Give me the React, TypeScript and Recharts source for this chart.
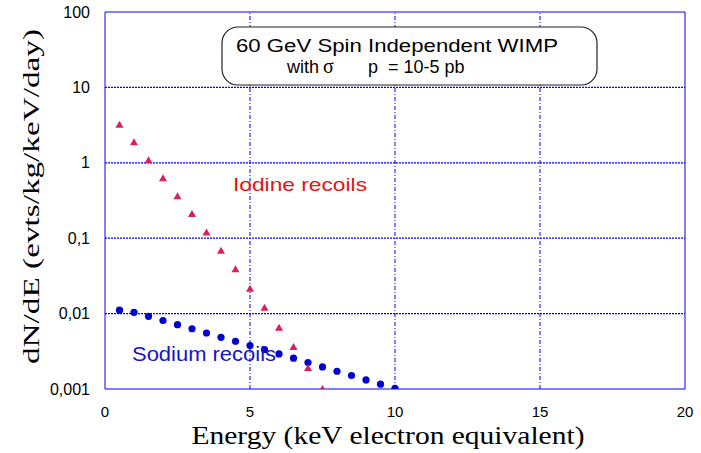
import React from "react";
import {
  ScatterChart,
  Scatter,
  XAxis,
  YAxis,
  ReferenceLine,
  Label,
} from "recharts";

// energies (keV ee) where the rates were sampled
const energies = [0.5, 1, 1.5, 2, 2.5, 3, 3.5, 4, 4.5, 5, 5.5, 6, 6.5, 7, 7.5, 8, 8.5, 9, 9.5, 10];

// dN/dE
const iodineRates = [3.2, 1.87, 1.08, 0.625, 0.36, 0.21, 0.119, 0.068, 0.0386, 0.0214, 0.012, 0.0065, 0.0036, 0.0019, 0.001];
const sodiumRates = [0.0111, 0.0104, 0.0092, 0.0081, 0.00714, 0.0063, 0.00553, 0.00485, 0.0043, 0.00377, 0.00334, 0.00292, 0.00256, 0.00224, 0.00196, 0.00172, 0.00151, 0.00132, 0.00116, 0.00102];

const xTicks = [0, 5, 10, 15, 20];
const xMinorTicks = [1, 2, 3, 4, 5, 6, 7, 8, 9, 10, 11, 12, 13, 14, 15, 16, 17, 18, 19];
const yTicks = [0.001, 0.01, 0.1, 1, 10, 100];
const yTickLabels = ["0,001", "0,01", "0,1", "1", "10", "100"];
const decades = [0.001, 0.01, 0.1, 1, 10];
const minorMultipliers = [1, 2, 3, 4, 5, 6, 7, 8, 9];
const yMinorTicks = decades.flatMap((d) => minorMultipliers.map((m) => +(d * m).toPrecision(3)));

const hGrid = [0.01, 0.1, 1, 10];
const vGrid = [5, 10, 15];

const iodineData = iodineRates.map((rate, i) => ({ energy: energies[i], rate }));
const sodiumData = sodiumRates.map((rate, i) => ({ energy: energies[i], rate }));

const BLUE = "#0000ff";
const DOT_BLUE = "#0000d2";
const CRIMSON = "#dc1f5a";
const SANS = "'Liberation Sans', Arial, sans-serif";
const SERIF = "'Liberation Serif', 'Times New Roman', serif";

const Triangle = (props: any) => {
  const { cx, cy } = props;
  if (cx == null || cy == null) return null;
  return <polygon points={`${cx},${cy - 4} ${cx - 4},${cy + 3} ${cx + 4},${cy + 3}`} fill={CRIMSON} />;
};

const Dot = (props: any) => {
  const { cx, cy } = props;
  if (cx == null || cy == null) return null;
  return <circle cx={cx} cy={cy} r={3.6} fill={DOT_BLUE} />;
};

const YTitle = (props: any) => {
  const vb = props.viewBox || { x: 0, y: 12, width: 105, height: 377 };
  const cx = vb.x + 31;
  const cy = vb.y + vb.height / 2 - 4;
  return (
    <text
      x={cx}
      y={cy}
      transform={`rotate(-90, ${cx}, ${cy})`}
      textAnchor="middle"
      dominantBaseline="central"
      fontFamily={SERIF}
      fontSize={24}
      fill="#000"
      textLength={335}
      lengthAdjust="spacingAndGlyphs"
    >
      dN/dE (evts/kg/keV/day)
    </text>
  );
};

const XTitle = (props: any) => {
  const vb = props.viewBox || { x: 105, y: 389, width: 580, height: 64 };
  const cx = vb.x + vb.width / 2 - 7;
  return (
    <text
      x={cx}
      y={vb.y + 55}
      textAnchor="middle"
      fontFamily={SERIF}
      fontSize={26}
      fill="#000"
      textLength={393}
      lengthAdjust="spacingAndGlyphs"
    >
      Energy (keV electron equivalent)
    </text>
  );
};

export default function App() {
  return (
    <div style={{ position: "absolute", left: 0, top: 0, width: 701, height: 453, background: "#fff" }}>
      <ScatterChart width={701} height={453} margin={{ top: 12, right: 16, bottom: 0, left: 0 }}>
        <XAxis
          xAxisId="main"
          type="number"
          dataKey="energy"
          domain={[0, 20]}
          ticks={xTicks}
          allowDataOverflow
          height={64}
          stroke={BLUE}
          tickLine={false}
          tickSize={0}
          tickMargin={17}
          tick={{ fill: "#000", fontFamily: SANS, fontSize: 15 }}
        >
          <Label content={<XTitle />} />
        </XAxis>
        <XAxis
          xAxisId="bottomMinor"
          type="number"
          domain={[0, 20]}
          ticks={xMinorTicks}
          allowDataOverflow
          mirror
          axisLine={false}
          tickSize={4}
          tickLine={{ stroke: BLUE }}
          tick={false}
        />
        <XAxis
          xAxisId="top"
          orientation="top"
          type="number"
          domain={[0, 20]}
          ticks={xMinorTicks}
          allowDataOverflow
          mirror
          stroke={BLUE}
          tickSize={4}
          tickLine={{ stroke: BLUE }}
          tick={false}
        />
        <YAxis
          yAxisId="main"
          type="number"
          dataKey="rate"
          scale="log"
          domain={[0.001, 100]}
          ticks={yTicks}
          allowDataOverflow
          width={105}
          stroke={BLUE}
          tickLine={false}
          tickSize={0}
          tickMargin={15}
          tickFormatter={(v: number) => yTickLabels[yTicks.indexOf(v)] ?? String(v)}
          tick={{ fill: "#000", fontFamily: SANS, fontSize: 16 }}
        >
          <Label content={<YTitle />} />
        </YAxis>
        <YAxis
          yAxisId="leftMinor"
          type="number"
          scale="log"
          domain={[0.001, 100]}
          ticks={yMinorTicks}
          allowDataOverflow
          mirror
          axisLine={false}
          tickSize={5}
          tickLine={{ stroke: BLUE }}
          tick={false}
        />
        <YAxis
          yAxisId="right"
          orientation="right"
          type="number"
          scale="log"
          domain={[0.001, 100]}
          ticks={yMinorTicks}
          allowDataOverflow
          mirror
          stroke={BLUE}
          tickSize={5}
          tickLine={{ stroke: BLUE }}
          tick={false}
        />

        {hGrid.map((y) => (
          <ReferenceLine
            key={`h${y}`}
            xAxisId="main"
            yAxisId="main"
            y={y}
            stroke={BLUE}
            strokeWidth={1.2}
            strokeDasharray="2 1"
          />
        ))}
        {vGrid.map((x) => (
          <ReferenceLine
            key={`v${x}`}
            xAxisId="main"
            yAxisId="main"
            x={x}
            stroke={BLUE}
            strokeWidth={1}
            strokeDasharray="4 2 1 2"
          />
        ))}

        <Scatter
          name="Sodium recoils"
          xAxisId="main"
          yAxisId="main"
          data={sodiumData}
          shape={<Dot />}
          isAnimationActive={false}
        />
        <Scatter
          name="Iodine recoils"
          xAxisId="main"
          yAxisId="main"
          data={iodineData}
          shape={<Triangle />}
          isAnimationActive={false}
        />
      </ScatterChart>

      <svg
        width={701}
        height={453}
        style={{ position: "absolute", left: 0, top: 0, pointerEvents: "none" }}
      >
        <rect x={222} y={27} width={375} height={58} rx={16} fill="#fff" stroke="#222" strokeWidth={1.2} />
        <text x={236} y={52} fontFamily={SANS} fontSize={18} fill="#000" textLength={322} lengthAdjust="spacingAndGlyphs">
          60 GeV Spin Independent WIMP
        </text>
        <text y={73} fontFamily={SANS} fontSize={18} fill="#000">
          <tspan x={287}>with</tspan>
          <tspan x={323} fontFamily={SERIF} fontSize={20}>σ</tspan>
          <tspan x={368}>p</tspan>
          <tspan x={388}>= 10-5 pb</tspan>
        </text>
        <text x={233} y={191} fontFamily={SANS} fontSize={19} fill="#e41414" textLength={134} lengthAdjust="spacingAndGlyphs">
          Iodine recoils
        </text>
        <text x={132} y={361} fontFamily={SANS} fontSize={20} fill="#1414cc" textLength={144} lengthAdjust="spacingAndGlyphs">
          Sodium recoils
        </text>
      </svg>
    </div>
  );
}
